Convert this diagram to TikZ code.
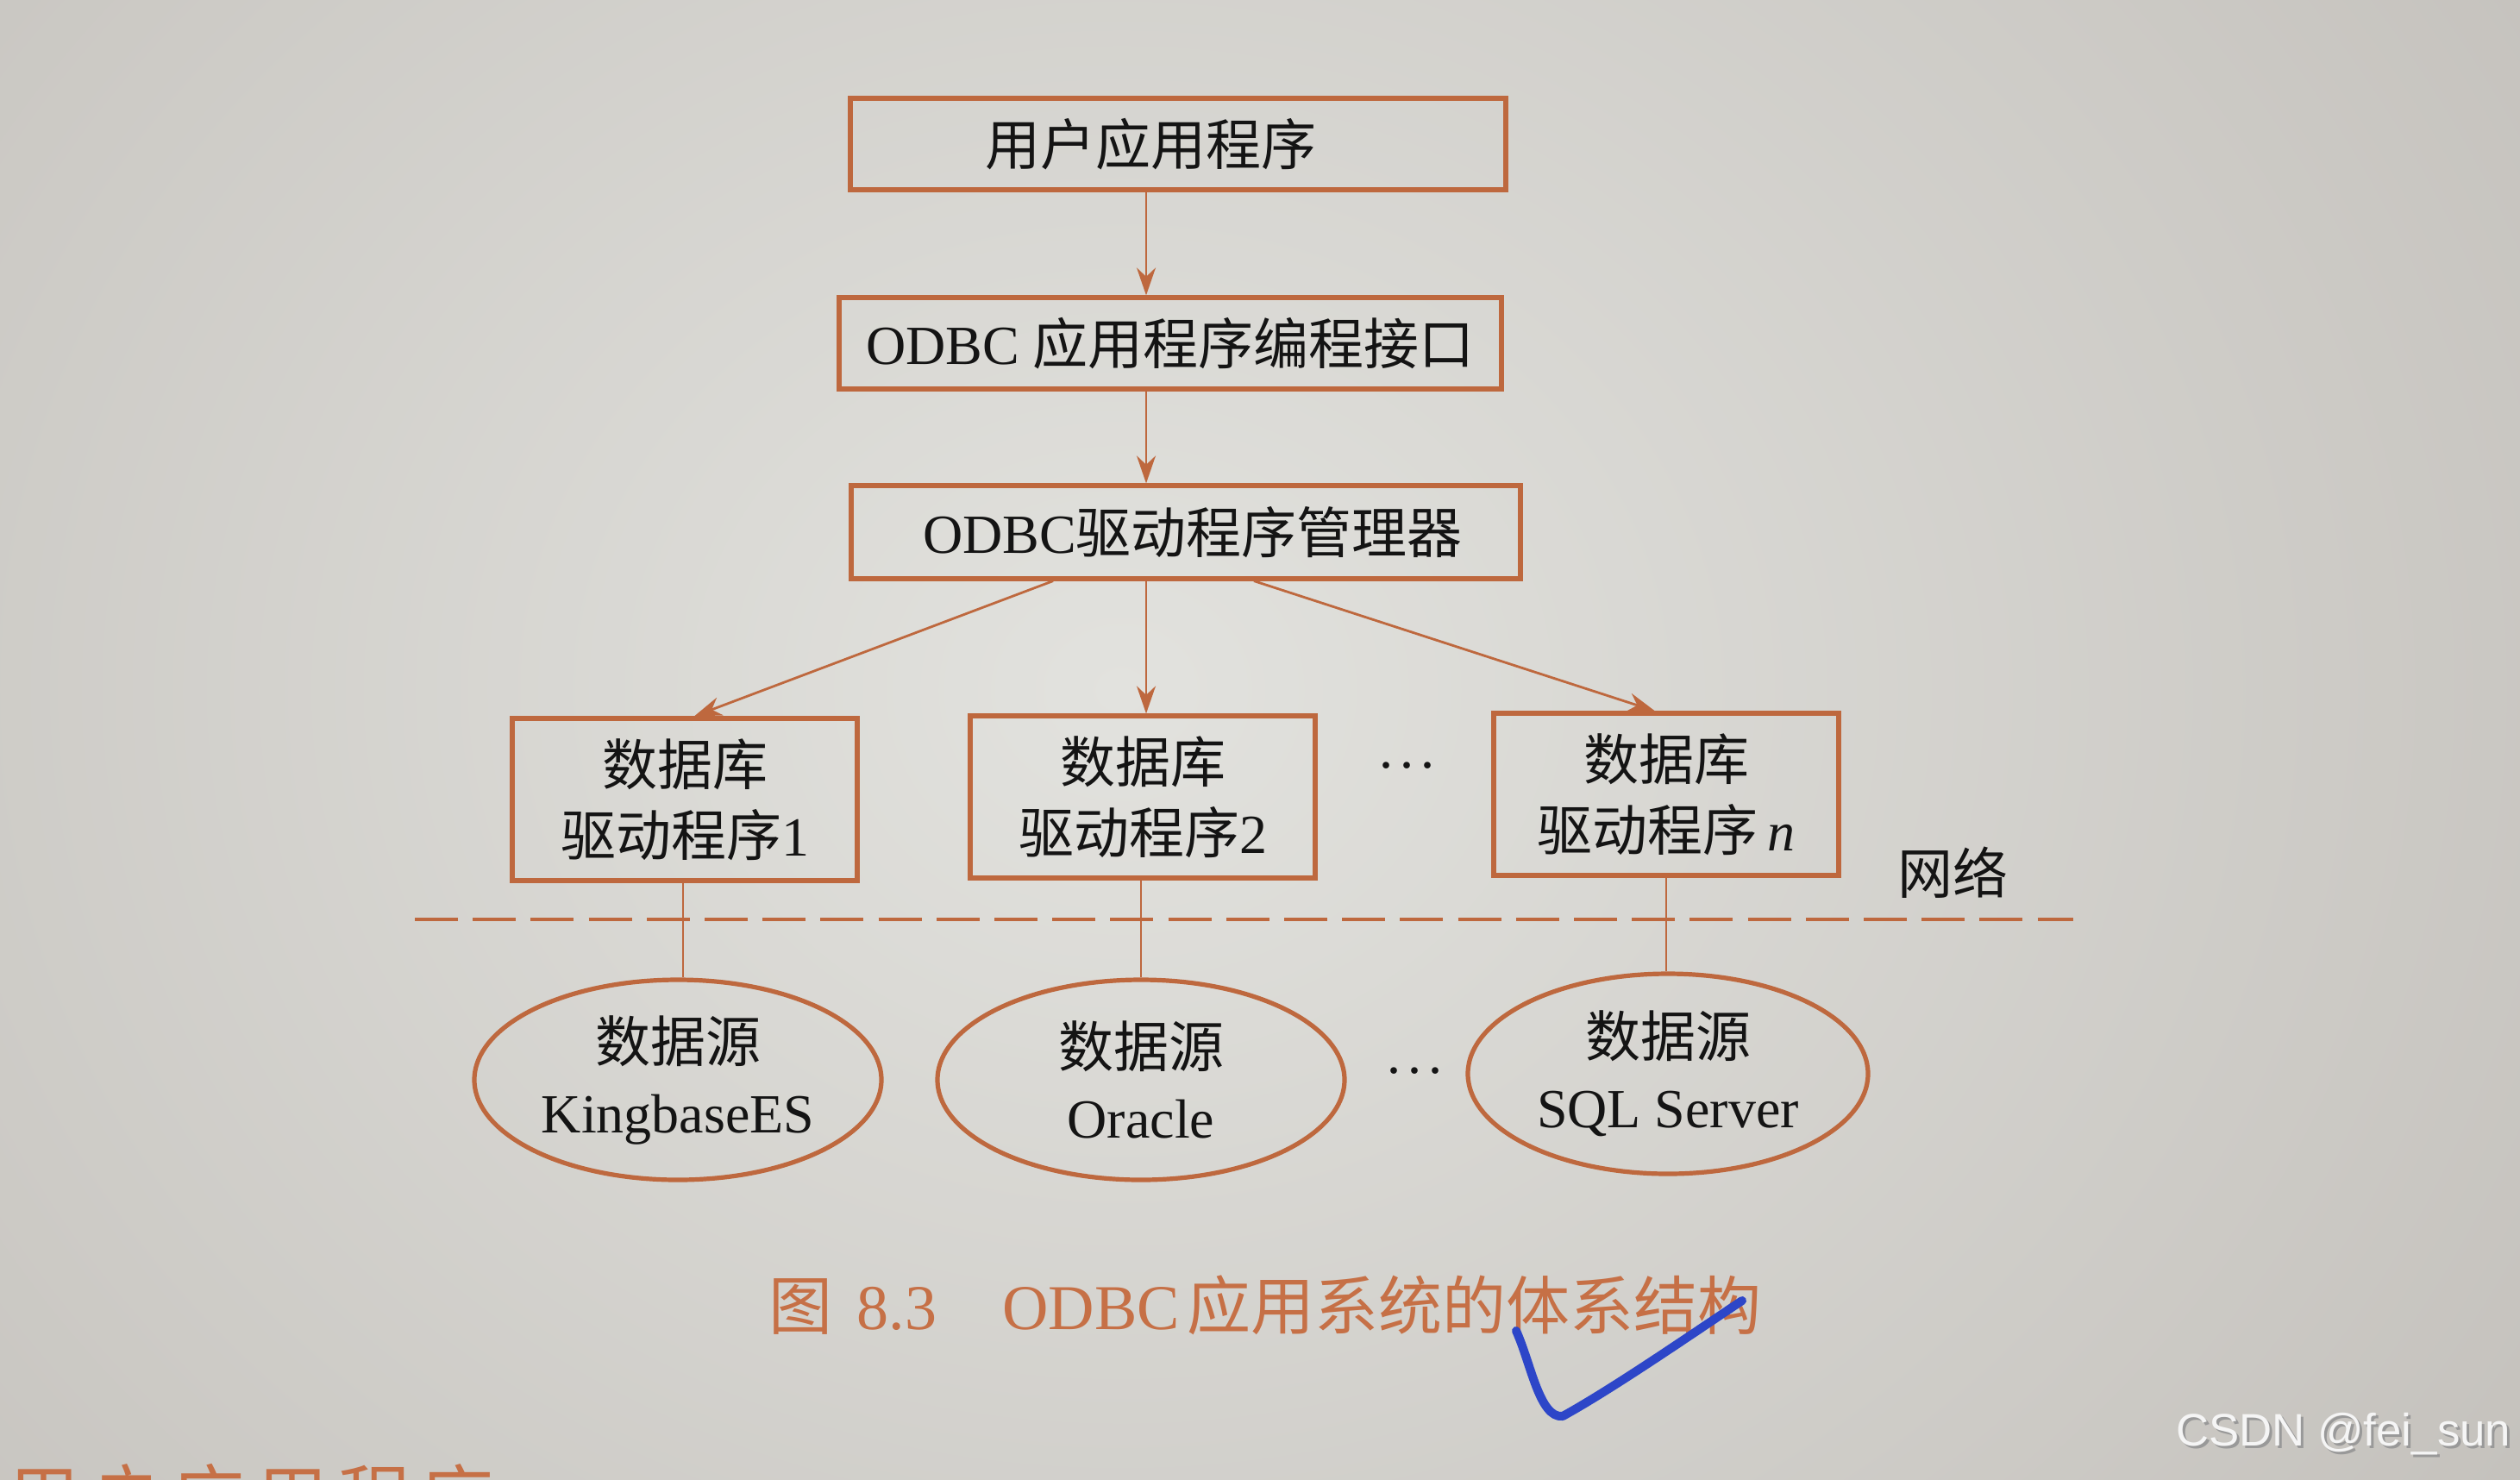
\documentclass[tikz,border=0pt]{standalone}
\usepackage{fontspec}
\setmainfont{Liberation Serif}
\newfontfamily\cjk{Noto Sans CJK SC}
\newfontfamily\wmfont{Liberation Sans}
\usetikzlibrary{shapes.geometric,arrows.meta,calc,shadings}
\definecolor{lc}{RGB}{190,104,62}
\definecolor{capc}{RGB}{198,112,70}
\definecolor{bgIn}{RGB}{226,226,222}
\definecolor{bgOut}{RGB}{196,193,188}
\definecolor{pen}{RGB}{45,70,200}
\begin{document}
\begin{tikzpicture}[x=0.25pt,y=-0.25pt,
  txt/.style={text=black!92, font=\fontsize{16}{20.5}\selectfont},
  topbox/.style={draw=lc, line width=1.3pt, inner sep=0pt, minimum height=26.5pt, txt},
  drvbox/.style={draw=lc, line width=1.3pt, inner sep=0pt, minimum width=100pt, minimum height=47pt, align=center, txt},
  dsrc/.style={ellipse, draw=lc, line width=1.3pt, inner sep=0pt, minimum width=118pt, minimum height=58pt, align=center, txt},
  conn/.style={draw=lc, line width=0.7pt},
  arr/.style={conn, -{Stealth[length=8pt,width=5.5pt]}},
  dots/.style={anchor=base, txt}
]
\clip (0,0) rectangle (2922,1715);
\shade[inner color=bgIn, outer color=bgOut] (-700,-900) rectangle (3300,2500);

% top chain
\node[topbox, minimum width=190pt] (b1) at (1366,167) {\cjk 用户应用程序\hspace*{16pt}};
\node[topbox, minimum width=192pt] (b2) at (1357,398) {ODBC {\cjk 应用程序编程接口}};
\node[topbox, minimum width=194pt, minimum height=27pt] (b3) at (1375,617) {\hspace*{4pt}ODBC{\cjk 驱动程序管理器}};

% drivers
\node[drvbox] (dA) at (794,927) {{\cjk 数据库}\\{\cjk 驱动程序}1};
\node[drvbox] (dB) at (1325,924) {{\cjk 数据库}\\{\cjk 驱动程序}2};
\node[drvbox] (dC) at (1932,921) {{\cjk 数据库}\\{\cjk 驱动程序}\,\textit{n}};
\node[dots] (dt1) at (1631,890) {.\kern2pt.\kern2pt.};

% network line
\coordinate (nL) at (481,1066);
\coordinate (nR) at (2404,1066);
\draw[conn, line width=0.9pt, dash pattern=on 12.5pt off 4.3pt] (nL) -- (nR);
\node[txt] (net) at (2264,1012) {\cjk 网络};

% data sources
\node[dsrc] (eA) at (786,1252) {{\cjk 数据源}\\KingbaseES};
\node[dsrc] (eB) at (1323,1252) {{\cjk 数据源}\\Oracle};
\node[dsrc, minimum width=116pt] (eC) at (1934,1245) {{\cjk 数据源}\\SQL Server};
\node[dots] (dt2) at (1640,1244) {.\kern2pt.\kern2pt.};

% connectors
\draw[arr] (b1.south -| 1329,0) -- (b2.north -| 1329,0);
\draw[arr] (b2.south -| 1329,0) -- (b3.north -| 1329,0);
\draw[arr] ($(b3.south)+(-154,0)$) -- ($(dA.north)+(11,0)$);
\draw[arr] (b3.south -| 1329,0) -- (dB.north -| 1329,0);
\draw[arr] ($(b3.south)+(79,0)$) -- ($(dC.north)+(-13,0)$);
\draw[conn] (dA.south -| 792,0) -- (eA.north -| 792,0);
\draw[conn] (dB.south -| 1323,0) -- (eB.north -| 1323,0);
\draw[conn] (dC.south -| 1932,0) -- (eC.north -| 1932,0);

% caption
\node[text=capc, font=\fontsize{18.5}{20}\selectfont] (cap) at (1467,1513)
  {{\cjk 图}\hspace{7pt}8.3\hspace{19pt}ODBC\hspace{2pt}{\cjk 应用系统的体系结构}};

% handwritten check mark
\coordinate (ck1) at (1758,1543);
\coordinate (ck2) at (1812,1642);
\coordinate (ck3) at (2020,1508);
\draw[pen, line width=2.5pt, line cap=round, line join=round]
  (ck1) .. controls (1775,1580) and (1785,1645) .. (ck2)
  .. controls (1870,1610) and (1960,1548) .. (ck3);

% partial heading at bottom edge
\node[anchor=base west, text=capc, font=\fontsize{21}{22}\selectfont] (hd) at (-6,1768)
  {\cjk 用\hspace{3pt}户\hspace{3pt}应\hspace{3pt}用\hspace{3pt}程\hspace{3pt}序};

% watermark
\node[anchor=east, inner sep=0pt, text=black!40, font=\wmfont\fontsize{13.2}{14}\selectfont] (wm0) at (2915,1666) {CSDN @fei\_sun};
\node[anchor=east, inner sep=0pt, text=white!96!black, font=\wmfont\fontsize{13.2}{14}\selectfont] (wm) at (2912,1663) {CSDN @fei\_sun};
\end{tikzpicture}
\end{document}
